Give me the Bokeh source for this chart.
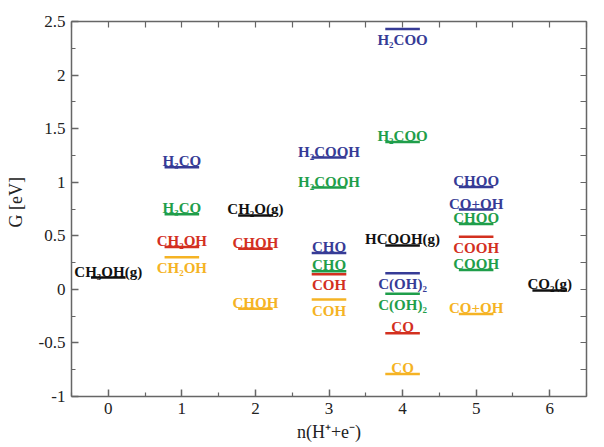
from bokeh.plotting import figure
from bokeh.models import LinearAxis, FixedTicker, ColumnDataSource
from bokeh.core.properties import value
from bokeh.embed import file_html
from bokeh.resources import INLINE

# ---- data ----
steps = [0, 1, 2, 3, 4, 5, 6]
step_minor = [-0.5, 0.5, 1.5, 2.5, 3.5, 4.5, 5.5, 6.5]
y_ticks = [-1, -0.5, 0, 0.5, 1, 1.5, 2, 2.5]
y_tick_labels = ["-1", "-0.5", "0", "0.5", "1", "1.5", "2", "2.5"]
y_minor = [-0.75, -0.25, 0.25, 0.75, 1.25, 1.75, 2.25]

gas_n = [0, 2, 4, 6]
gas_G = [0.11, 0.69, 0.41, -0.01]
gas_label = ["CH₃OH(g)", "CH₂O(g)", "HCOOH(g)", "CO₂(g)"]
gas_below = [False, False, False, False]

blue_n = [1, 3, 3, 4, 4, 5, 5]
blue_G = [1.14, 1.23, 0.34, 2.43, 0.15, 0.955, 0.745]
blue_label = ["H₃CO", "H₂COOH", "CHO", "H₂COO", "C(OH)₂", "CHOO", "CO+OH"]
blue_below = [False, False, False, True, True, False, False]

green_n = [1, 3, 3, 4, 4, 5, 5]
green_G = [0.70, 0.95, 0.17, 1.375, -0.04, 0.61, 0.18]
green_label = ["H₃CO", "H₂COOH", "CHO", "H₂COO", "C(OH)₂", "CHOO", "COOH"]
green_below = [False, False, False, False, True, False, False]

red_n = [1, 2, 3, 4, 5]
red_G = [0.395, 0.38, 0.14, -0.41, 0.49]
red_label = ["CH₂OH", "CHOH", "COH", "CO", "COOH"]
red_below = [False, False, True, False, True]

orange_n = [1, 2, 3, 4, 5]
orange_G = [0.30, -0.18, -0.095, -0.79, -0.23]
orange_label = ["CH₂OH", "CHOH", "COH", "CO", "CO+OH"]
orange_below = [True, False, True, False, False]

series = [
    (gas_n, gas_G, gas_label, gas_below, "#111111"),
    (blue_n, blue_G, blue_label, blue_below, "#363b96"),
    (green_n, green_G, green_label, green_below, "#1f9e4a"),
    (red_n, red_G, red_label, red_below, "#d3301f"),
    (orange_n, orange_G, orange_label, orange_below, "#f5b324"),
]

HALF = 0.235
SERIF = "Liberation Serif"

p = figure(width=600, height=447, x_range=(-0.5, 6.5), y_range=(-1, 2.5),
           output_backend="svg", toolbar_location=None,
           min_border_left=71, min_border_right=14, min_border_top=21,
           min_border_bottom=51)
p.xgrid.visible = False
p.ygrid.visible = False
p.outline_line_color = None
p.background_fill_color = "white"

for n, G, lab, below, col in series:
    src = ColumnDataSource(dict(x0=[v - HALF for v in n], x1=[v + HALF for v in n],
                                x=n, y=G, text=lab))
    p.segment(x0="x0", y0="y", x1="x1", y1="y", source=src,
              line_color=col, line_width=2.5)
    up = [i for i, b in enumerate(below) if not b]
    dn = [i for i, b in enumerate(below) if b]
    if up:
        s_up = ColumnDataSource(dict(x=[n[i] for i in up], y=[G[i] for i in up],
                                     text=[lab[i] for i in up]))
        p.text(x="x", y="y", text="text", source=s_up, text_color=col,
               text_font=value(SERIF), text_font_style="bold",
               text_font_size="15px", text_align="center",
               text_baseline="alphabetic", y_offset=-6)
    if dn:
        s_dn = ColumnDataSource(dict(x=[n[i] for i in dn], y=[G[i] for i in dn],
                                     text=[lab[i] for i in dn]))
        p.text(x="x", y="y", text="text", source=s_dn, text_color=col,
               text_font=value(SERIF), text_font_style="bold",
               text_font_size="15px", text_align="center",
               text_baseline="top", y_offset=3)

axis_col = "#666666"
lab_col = "#222222"

def style(ax):
    ax.axis_line_color = axis_col
    ax.axis_line_width = 1.5
    ax.major_tick_line_color = axis_col
    ax.minor_tick_line_color = axis_col
    ax.major_tick_line_width = 1.5
    ax.minor_tick_line_width = 1.2
    ax.major_tick_in = 7
    ax.major_tick_out = 0
    ax.minor_tick_in = 4
    ax.minor_tick_out = 0
    ax.major_label_text_font = SERIF
    ax.major_label_text_font_size = "17px"
    ax.major_label_text_color = lab_col
    ax.axis_label_text_font = SERIF
    ax.axis_label_text_font_style = "normal"
    ax.axis_label_text_font_size = "18px"
    ax.axis_label_text_color = lab_col

xa = p.xaxis[0]
xa.ticker = FixedTicker(ticks=steps, minor_ticks=step_minor)
xa.axis_label = "n(H⁺+e⁻)"
style(xa)
xa.major_label_standoff = 6
xa.axis_label_standoff = 5

ya = p.yaxis[0]
ya.ticker = FixedTicker(ticks=y_ticks, minor_ticks=y_minor)
ya.major_label_overrides = {float(t): s for t, s in zip(y_ticks, y_tick_labels)}
ya.axis_label = "\u00a0\u00a0\u00a0G [eV]"
style(ya)
ya.major_label_standoff = 6
ya.axis_label_standoff = 10

# frame axes on top and right: ticks only (drawn as unlabeled minor ticks)
top = LinearAxis(ticker=FixedTicker(ticks=[], minor_ticks=sorted(steps + step_minor)))
style(top)
top.minor_tick_in = 6
p.add_layout(top, "above")
right = LinearAxis(ticker=FixedTicker(ticks=[], minor_ticks=sorted(y_ticks + y_minor)))
style(right)
right.minor_tick_in = 6
p.add_layout(right, "right")

open("out.html", "w").write(file_html(p, INLINE))
